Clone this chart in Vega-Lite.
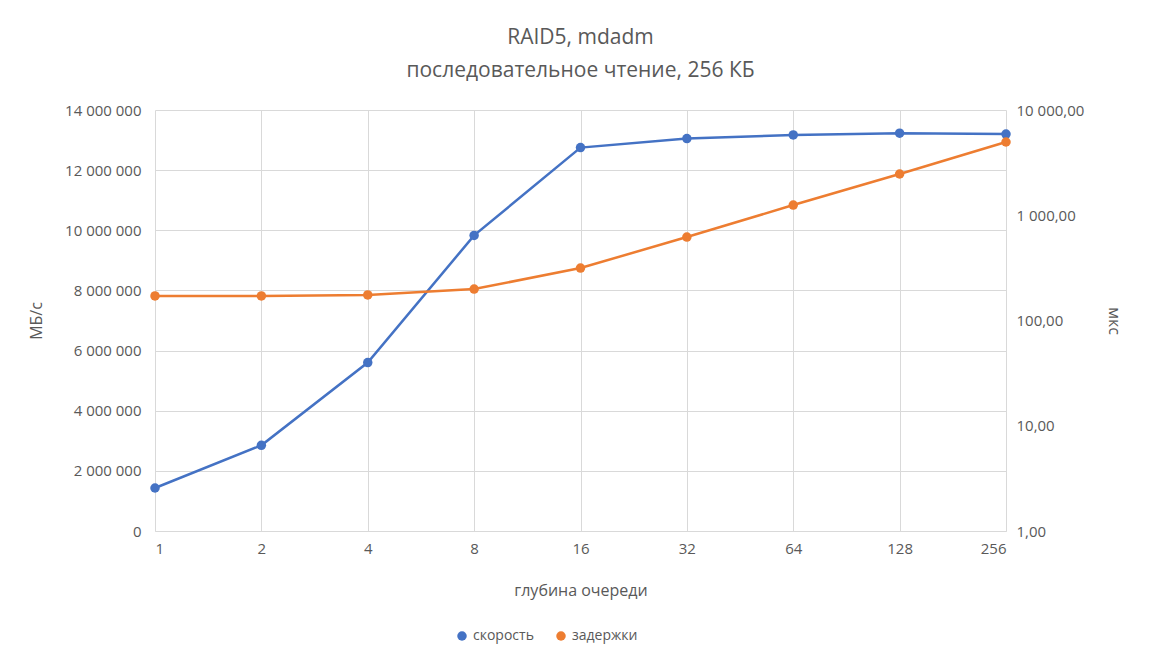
{
  "$schema": "https://vega.github.io/schema/vega-lite/v6.json",
  "width": 851,
  "height": 421,
  "autosize": "none",
  "padding": {"left": 155, "top": 110, "right": 145, "bottom": 137},
  "background": "white",
  "title": {
    "text": ["RAID5, mdadm", "последовательное чтение, 256 КБ"],
    "fontSize": 21,
    "fontWeight": "normal",
    "color": "#595959",
    "lineHeight": 33,
    "offset": 22,
    "anchor": "middle"
  },
  "data": {
    "values": [
      {"q": 1, "s": "скорость", "v": 1430000},
      {"q": 2, "s": "скорость", "v": 2850000},
      {"q": 4, "s": "скорость", "v": 5600000},
      {"q": 8, "s": "скорость", "v": 9830000},
      {"q": 16, "s": "скорость", "v": 12750000},
      {"q": 32, "s": "скорость", "v": 13050000},
      {"q": 64, "s": "скорость", "v": 13170000},
      {"q": 128, "s": "скорость", "v": 13230000},
      {"q": 256, "s": "скорость", "v": 13200000},
      {"q": 1, "s": "задержки", "v": 171},
      {"q": 2, "s": "задержки", "v": 171},
      {"q": 4, "s": "задержки", "v": 175},
      {"q": 8, "s": "задержки", "v": 199},
      {"q": 16, "s": "задержки", "v": 315},
      {"q": 32, "s": "задержки", "v": 621},
      {"q": 64, "s": "задержки", "v": 1250},
      {"q": 128, "s": "задержки", "v": 2466},
      {"q": 256, "s": "задержки", "v": 4966}
    ]
  },
  "encoding": {
    "x": {
      "field": "q", "type": "quantitative",
      "scale": {"type": "log", "base": 2, "domain": [1, 256], "nice": false},
      "axis": {"values": [1, 2, 4, 8, 16, 32, 64, 128, 256], "title": "глубина очереди", "format": "d", "titlePadding": 26, "labelPadding": 10, "domain": true, "domainColor": "#d9d9d9", "ticks": false}
    },
    "color": {
      "field": "s", "type": "nominal",
      "scale": {"domain": ["скорость", "задержки"], "range": ["#4472C4", "#ED7D31"]},
      "legend": {"orient": "none", "legendX": 300, "legendY": 519, "direction": "horizontal", "title": null, "symbolType": "circle", "symbolSize": 90, "labelFontSize": 14, "labelColor": "#595959", "symbolStrokeWidth": 0, "columnPadding": 20}
    }
  },
  "layer": [
    {
      "transform": [{"filter": "datum.s === 'скорость'"}],
      "mark": {"type": "line", "point": {"size": 90, "filled": true}, "strokeWidth": 2.5},
      "encoding": {
        "y": {
          "field": "v", "type": "quantitative",
          "scale": {"domain": [0, 14000000], "nice": false},
          "axis": {"values": [0, 2000000, 4000000, 6000000, 8000000, 10000000, 12000000, 14000000], "labelExpr": "replace(format(datum.value, ',d'), /,/g, ' ')", "title": "МБ/с", "titlePadding": 20, "domain": false, "ticks": false, "labelPadding": 14}
        }
      }
    },
    {
      "transform": [{"filter": "datum.s === 'задержки'"}],
      "mark": {"type": "line", "point": {"size": 90, "filled": true}, "strokeWidth": 2.5},
      "encoding": {
        "y": {
          "field": "v", "type": "quantitative",
          "scale": {"type": "log", "domain": [1, 10000], "nice": false},
          "axis": {"orient": "right", "values": [1, 10, 100, 1000, 10000], "grid": false, "labelExpr": "replace(replace(format(datum.value, ',.2f'), /,/g, ' '), '.', ',')", "title": "мкс", "titlePadding": 22, "domain": false, "ticks": false, "labelPadding": 10}
        }
      }
    }
  ],
  "resolve": {"scale": {"y": "independent"}},
  "config": {
    "font": "Open Sans",
    "view": {"stroke": null},
    "axis": {"labelFontSize": 15, "titleFontSize": 16, "labelColor": "#595959", "titleColor": "#595959", "titleFontWeight": "normal", "gridColor": "#d9d9d9", "grid": true}
  }
}
